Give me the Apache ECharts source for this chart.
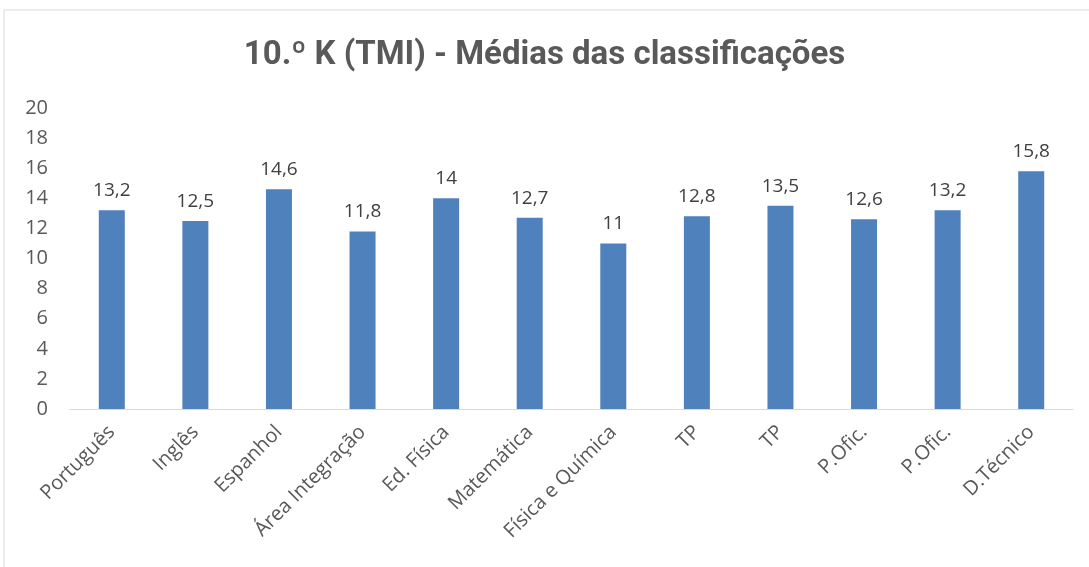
<!DOCTYPE html>
<html><head><meta charset="utf-8">
<script src="https://cdn.jsdelivr.net/npm/echarts@6/dist/echarts.min.js"></script>
<style>html,body{margin:0;padding:0;background:#fff}#c{width:1089px;height:567px}</style>
</head><body><div id="c"></div>
<script>
const titleText = '10.º K (TMI) - Médias das classificações';
const categories = ['Português','Inglês','Espanhol','Área Integração','Ed. Física','Matemática','Física e Química','TP','TP','P.Ofic.','P.Ofic.','D.Técnico'];
const values = [13.2,12.5,14.6,11.8,14,12.7,11,12.8,13.5,12.6,13.2,15.8];
const yMin = 0, yMax = 20, yStep = 2;

const chart = echarts.init(document.getElementById('c'));
chart.setOption({
  animation:false,
  backgroundColor:'#fff',
  title:{text:titleText,left:'center',top:34,textStyle:{fontFamily:'Roboto',fontWeight:'bold',fontSize:33,color:'#595959'}},
  graphic:[{type:'rect',shape:{x:4,y:10,width:1200,height:700},style:{fill:'none',stroke:'#d9d9d9',lineWidth:1}}],
  grid:{left:70,right:16,top:108,bottom:158},
  xAxis:{type:'category',data:categories,
    axisLine:{lineStyle:{color:'#d9d9d9',width:1}},axisTick:{show:false},
    axisLabel:{rotate:45,interval:0,fontFamily:'Open Sans',fontSize:20,color:'#595959',margin:20}},
  yAxis:{type:'value',min:yMin,max:yMax,interval:yStep,
    axisLine:{show:false},axisTick:{show:false},splitLine:{show:false},
    axisLabel:{fontFamily:'Open Sans',fontSize:20,color:'#595959',margin:22}},
  series:[{type:'bar',data:values,barWidth:26,itemStyle:{color:'#4f81bd'},
    label:{show:true,position:'top',distance:10,fontFamily:'Open Sans',fontSize:19,color:'#404040',
      formatter:p=>String(p.value).replace('.',',')}}]
});
</script></body></html>
